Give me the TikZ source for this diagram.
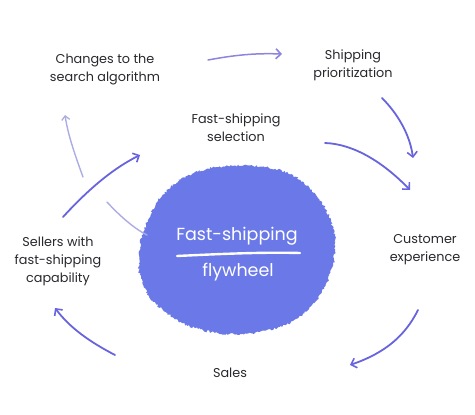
\documentclass[tikz,border=0pt]{standalone}
\usepackage{fontspec}
\setmainfont{Poppins}
\usetikzlibrary{arrows.meta,decorations.pathmorphing}
\definecolor{blobc}{RGB}{106,120,232}
\definecolor{arrc}{RGB}{104,100,222}
\definecolor{arrlight}{RGB}{140,132,222}
\definecolor{faint}{RGB}{172,172,228}
\definecolor{txt}{RGB}{40,40,45}
\tikzset{
  lbl/.style={align=center,text=txt,font=\fontsize{12.8}{18}\selectfont,inner sep=1pt},
  arr/.style={draw=arrc,line width=1.8pt,line cap=round,-{Straight Barb[length=5pt,width=10pt,line width=1.6pt]}},
  arrl/.style={arr,draw=arrlight,line width=1.5pt},
  faintarr/.style={draw=faint,line width=1.4pt,line cap=round,-{Straight Barb[length=4pt,width=8pt,line width=1.3pt]}},
  faintline/.style={draw=faint,line width=1.4pt,line cap=round},
  blobtxt/.style={text=white,font=\fontsize{17.5}{20}\selectfont,inner sep=0pt},
}
\begin{document}
\begin{tikzpicture}[x=1pt,y=-1pt]
\useasboundingbox (0,0) rectangle (475,415);
% blob
\fill[blobc,decorate,decoration={random steps,segment length=1.5pt,amplitude=1.2pt}]
  plot[smooth cycle,tension=0.7] coordinates {(233,166) (282,171) (314,193) (331,222) (335,252) (327,282) (312,305) (285,325) (240,334) (195,328) (163,310) (143,285) (139,255) (146,225) (162,196) (192,174)};
\node[blobtxt] (blobt) at (237,236) {Fast-shipping};
\node[blobtxt] (blobb) at (238,272) {flywheel};
\coordinate (ul1) at (177,256);
\coordinate (ul2) at (300,253);
\draw[white,line width=2.4pt,line cap=round] (ul1) .. controls (220,254) and (260,252) .. (ul2);
% labels
\node[lbl] (changes) at (105,69) {Changes to the\\search algorithm};
\node[lbl] (shipprio) at (353,65) {Shipping\\prioritization};
\node[lbl] (fastsel) at (236,128) {Fast-shipping\\selection};
\node[lbl] (sellers) at (58,261) {Sellers with\\fast-shipping\\capability};
\node[lbl] (custexp) at (425,250) {Customer\\experience};
\node[lbl] (sales) at (230,373) {Sales};
% arrow end points
\coordinate (a1s) at (208,60);  \coordinate (a1e) at (282,54);
\coordinate (a2s) at (382,98);  \coordinate (a2e) at (413,158);
\coordinate (a3s) at (325,143); \coordinate (a3e) at (410,190);
\coordinate (a4s) at (418,310); \coordinate (a4e) at (350,365);
\coordinate (a5s) at (115,355); \coordinate (a5e) at (55,308);
\coordinate (a6s) at (63,217);  \coordinate (a6e) at (140,155);
\coordinate (a7s) at (83,177);  \coordinate (a7e) at (65,115);
\coordinate (a8s) at (147,235); \coordinate (a8e) at (107,202);
% connectors
\draw[arrl] (a1s) .. controls (235,55) and (255,53) .. (a1e);
\draw[arr] (a2s) .. controls (398,114) and (410,135) .. (a2e);
\draw[arr] (a3s) .. controls (355,144) and (385,164) .. (a3e);
\draw[arr] (a4s) .. controls (405,336) and (385,353) .. (a4e);
\draw[arr] (a5s) .. controls (90,342) and (70,328) .. (a5e);
\draw[arr] (a6s) .. controls (85,193) and (110,170) .. (a6e);
\draw[faintline] (a8s) .. controls (133,228) and (118,214) .. (a8e);
\draw[faintarr] (a7s) .. controls (75,155) and (68,135) .. (a7e);
\end{tikzpicture}
\end{document}
